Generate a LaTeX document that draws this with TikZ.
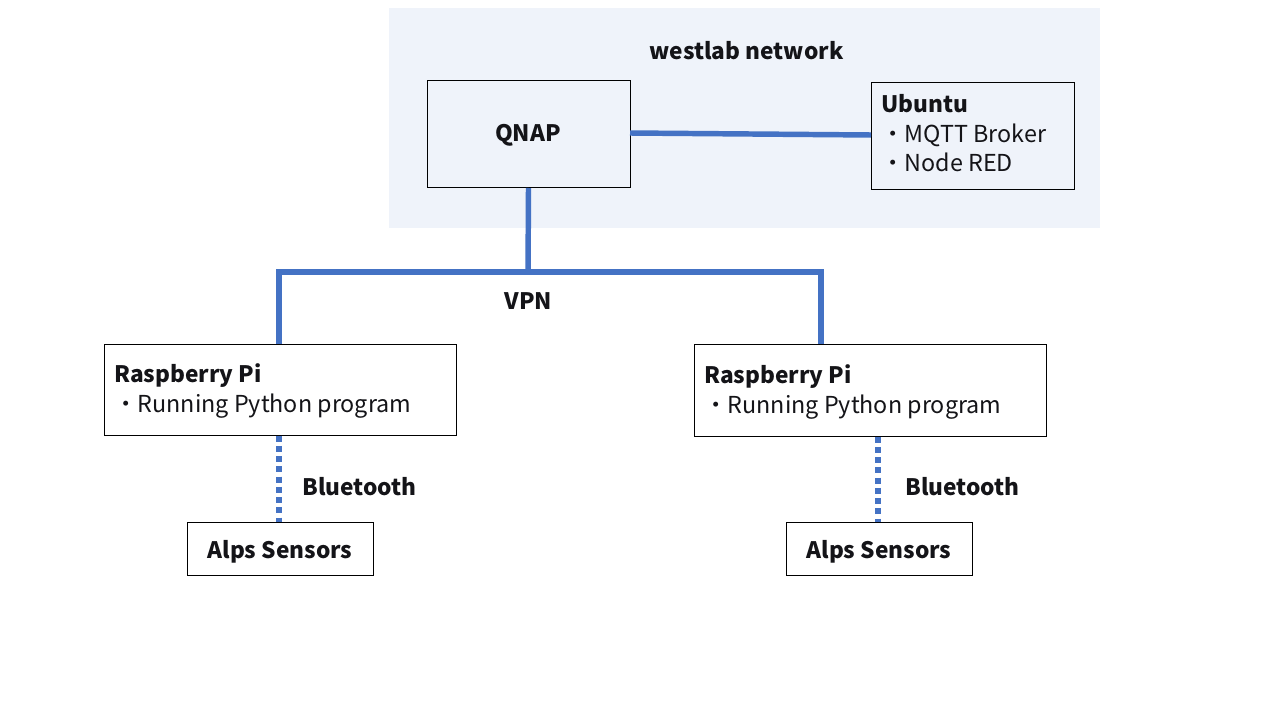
\documentclass[tikz,border=0pt]{standalone}
\usepackage{fontspec}
\setmainfont{Noto Sans CJK JP}
\definecolor{lineblue}{RGB}{68,114,196}
\definecolor{bgblue}{RGB}{239,243,250}
\definecolor{txt}{RGB}{20,20,24}
\tikzset{
  box/.style={draw=black, line width=0.75pt, fill=white, minimum width=#1, inner sep=0pt, outer sep=0pt},
  bigtext/.style={font=\fontsize{17}{20}\selectfont\bfseries, text=txt, inner sep=0pt},
  smalltext/.style={font=\fontsize{17.5}{20}\selectfont, text=txt, inner sep=0pt},
  link/.style={draw=lineblue, line width=4.1pt},
  btlink/.style={draw=lineblue, line width=4.1pt, dash pattern=on 4.5pt off 3.2pt}
}
\begin{document}
\begin{tikzpicture}[x=0.75pt,y=-0.75pt]
\useasboundingbox (0,0) rectangle (1280,720);
\fill[white] (0,0) rectangle (1280,720);
% background region
\node[fill=bgblue, minimum width=711*0.75pt, minimum height=220*0.75pt, inner sep=0pt, anchor=north west] (net) at (389,8) {};
\node[bigtext, anchor=base] (netlabel) at (746.5,60) {westlab network};
% boxes
\node[box=203*0.75pt, minimum height=107*0.75pt, fill=bgblue, anchor=north west] (qnap) at (427,81) {};
\node[bigtext, anchor=base] (qnaplabel) at (528,142) {QNAP};
\node[box=203*0.75pt, minimum height=107*0.75pt, fill=bgblue, anchor=north west] (ubuntu) at (871,83) {};
\node[bigtext, anchor=base west] (ubt) at (881,113) {Ubuntu};
\node[smalltext, anchor=base west] (ub1) at (881,143) {・MQTT Broker};
\node[smalltext, anchor=base west] (ub2) at (881,172) {・Node RED};
\node[box=352*0.75pt, minimum height=91*0.75pt, anchor=north west] (rpl) at (104,344) {};
\node[bigtext, anchor=base west] (rplt) at (114,382) {Raspberry Pi};
\node[smalltext, anchor=base west] (rpl1) at (114,412) {・Running Python program};
\node[box=352*0.75pt, minimum height=92*0.75pt, anchor=north west] (rpr) at (694,344) {};
\node[bigtext, anchor=base west] (rprt) at (704,383) {Raspberry Pi};
\node[smalltext, anchor=base west] (rpr1) at (704,413) {・Running Python program};
\node[box=186*0.75pt, minimum height=53*0.75pt, anchor=north west] (alpl) at (187,522) {};
\node[bigtext, anchor=base] (alplt) at (280,558) {Alps Sensors};
\node[box=186*0.75pt, minimum height=53*0.75pt, anchor=north west] (alpr) at (786,522) {};
\node[bigtext, anchor=base] (alprt) at (879,558) {Alps Sensors};
% connectors
\coordinate (busl) at (279,272);
\coordinate (busr) at (821,272);
\coordinate (busm) at (528,272);
\draw[link] (qnap.east |- 0,133) -- (ubuntu.west |- 0,135);
\draw[link] (qnap.south) -- (busm);
\draw[link, line join=miter] (busl |- rpl.north) -- (busl) -- (busr) -- (busr |- rpr.north);
\node[bigtext, anchor=base] (vpn) at (528.5,309) {VPN};
\draw[btlink] (279,435.5) -- (279,522);
\draw[btlink] (878,436.5) -- (878,522);
\node[bigtext, anchor=base west] (btl) at (302,495.5) {Bluetooth};
\node[bigtext, anchor=base west] (btr) at (905,495.5) {Bluetooth};
\end{tikzpicture}
\end{document}
